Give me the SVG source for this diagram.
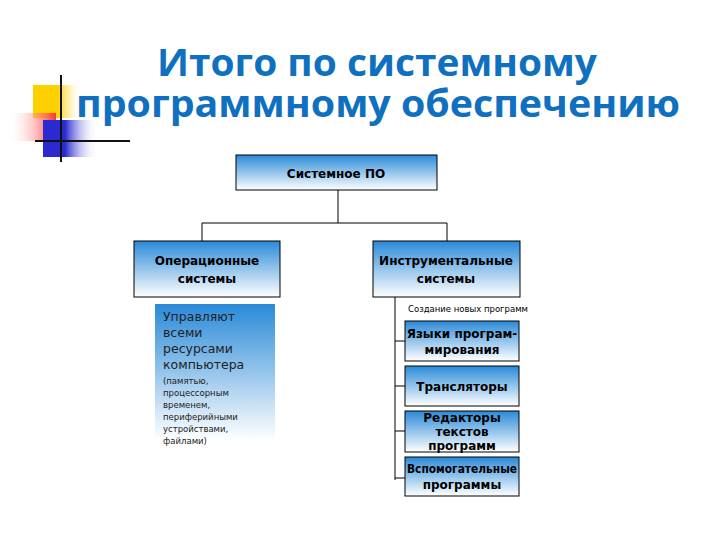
<svg xmlns="http://www.w3.org/2000/svg" width="720" height="540" viewBox="0 0 720 540">
<defs>
<linearGradient id="g" x1="0" y1="0" x2="0" y2="1"><stop offset="0" stop-color="#2a8ad8"/><stop offset="1" stop-color="#ffffff"/></linearGradient>
<linearGradient id="red" x1="0" y1="0" x2="1" y2="0"><stop offset="0" stop-color="#fff" stop-opacity="0"/><stop offset="1" stop-color="#ff3333"/></linearGradient>
<linearGradient id="blu" x1="0" y1="0" x2="1" y2="0"><stop offset="0.4" stop-color="#2a2ad0"/><stop offset="1" stop-color="#fff" stop-opacity="0"/></linearGradient>
<linearGradient id="yel" x1="0" y1="0" x2="1" y2="0"><stop offset="0.5" stop-color="#ffd000"/><stop offset="1" stop-color="#fff" stop-opacity="0"/></linearGradient>
</defs>
<style>
.b{fill:url(#g);stroke:#000;stroke-width:1}
.t{font-family:"DejaVu Sans",sans-serif;font-weight:bold;font-size:12px;text-anchor:middle;fill:#000}
.l{stroke:#000;stroke-width:1;fill:none}
</style>
<rect width="720" height="540" fill="#fff"/>
<g id="deco">
<rect x="33" y="85" width="50" height="33" fill="url(#yel)"/>
<rect x="8" y="113" width="48" height="28" fill="url(#red)"/>
<rect x="43" y="120" width="55" height="37" fill="url(#blu)"/>
<line x1="61" y1="75" x2="61" y2="162" stroke="#111" stroke-width="2"/>
<line x1="35" y1="141" x2="130" y2="141" stroke="#111" stroke-width="2"/>
</g>
<g id="title" font-family="Open Sans,sans-serif" font-weight="bold" font-size="37" fill="#1070c0" text-anchor="middle">
<text x="377" y="76" textLength="440" lengthAdjust="spacingAndGlyphs">Итого по системному</text>
<text x="378" y="117" textLength="604" lengthAdjust="spacingAndGlyphs">программному обеспечению</text>
</g>
<g id="connectors" class="l">
<path class="l" d="M338 190V223M202 223H447M202 223V241M447 223V241"/>
<path class="l" d="M395 297V480M395 341H405M395 386H405M395 431H405M395 478H405"/>
</g>
<g id="root"><rect class="b" x="236" y="155" width="201" height="35"/><text class="t" x="336" y="178" font-size="13">Системное ПО</text></g>
<g id="os"><rect class="b" x="134" y="241" width="146" height="56"/><text class="t" x="207" y="265">Операционные</text><text class="t" x="207" y="283">системы</text></g>
<g id="instr"><rect class="b" x="373" y="241" width="147" height="56"/><text class="t" x="446" y="265">Инструментальные</text><text class="t" x="446" y="283">системы</text></g>
<g id="osdesc" font-family="DejaVu Sans,sans-serif" fill="#222">
<rect x="155" y="304" width="120" height="136" fill="url(#g)"/>
<text font-size="12.5"><tspan x="163" y="321">Управляют</tspan><tspan x="163" y="337">всеми</tspan><tspan x="163" y="353">ресурсами</tspan><tspan x="163" y="369">компьютера</tspan></text>
<text font-size="8.5"><tspan x="163" y="384">(памятью,</tspan><tspan x="163" y="396">процессорным</tspan><tspan x="163" y="408">временем,</tspan><tspan x="163" y="420">периферийными</tspan><tspan x="163" y="432">устройствами,</tspan><tspan x="163" y="444">файлами)</tspan></text>
</g>
<g id="create"><text x="408" y="312" font-family="DejaVu Sans,sans-serif" font-size="8.5">Создание новых программ</text></g>
<g id="lang"><rect class="b" x="405" y="321" width="114" height="40"/><text class="t" x="462" y="338" font-size="11">Языки програм-</text><text class="t" x="462" y="354" font-size="11">мирования</text></g>
<g id="trans"><rect class="b" x="405" y="366" width="114" height="40"/><text class="t" x="462" y="391" font-size="13">Трансляторы</text></g>
<g id="edit"><rect class="b" x="405" y="411" width="114" height="41"/><text class="t" x="462" y="422" font-size="11">Редакторы</text><text class="t" x="462" y="436" font-size="11">текстов</text><text class="t" x="462" y="450" font-size="11">программ</text></g>
<g id="aux"><rect class="b" x="405" y="457" width="114" height="39"/><text class="t" x="462" y="473" font-size="10" textLength="110" lengthAdjust="spacingAndGlyphs">Вспомогательные</text><text class="t" x="462" y="489" font-size="11">программы</text></g>
</svg>
